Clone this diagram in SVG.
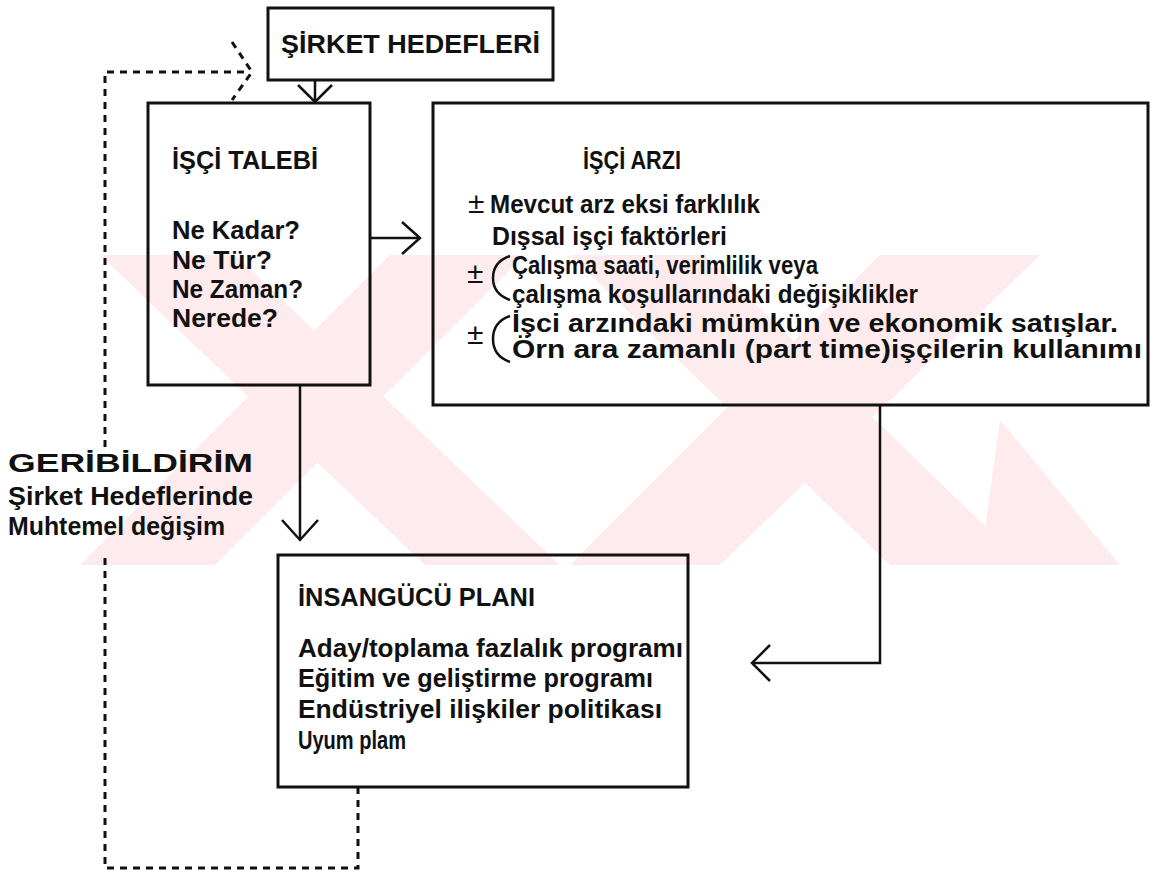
<svg xmlns="http://www.w3.org/2000/svg" width="1157" height="877" viewBox="0 0 1157 877">
<style>
.bx{fill:none;stroke:#111;stroke-width:3}
.ln{fill:none;stroke:#111;stroke-width:2.5}
.ds{fill:none;stroke:#111;stroke-width:3;stroke-dasharray:7 6}
.t{font-family:"Liberation Sans",Arial,sans-serif;font-weight:bold;fill:#111;font-size:25px}
.pm{font-family:"Liberation Sans",Arial,sans-serif;fill:#111;font-size:30px}
.wm{fill:#fdebee}
</style>
<g id="watermark">
<polygon class="wm" points="100,255 235,255 560,565 425,565"/>
<polygon class="wm" points="390,255 525,255 215,565 80,565"/>
<polygon class="wm" points="570,255 705,255 1025,565 890,565"/>
<polygon class="wm" points="880,255 1040,255 720,565 570,565"/>
<polygon class="wm" points="1000,420 1120,565 980,565"/>
</g>
<g id="connectors">
<line class="ln" x1="315" y1="80" x2="315" y2="102"/>
<polyline class="ln" points="298,85 315,102 332,85"/>
<line class="ln" x1="370" y1="238" x2="420" y2="238"/>
<polyline class="ln" points="402,222 420,238 402,254"/>
<line class="ln" x1="300" y1="385" x2="300" y2="540"/>
<polyline class="ln" points="282,520 300,540 318,520"/>
<polyline class="ln" points="880,405 880,663 752,663"/>
<polyline class="ln" points="770,645 752,663 770,681"/>
<polyline class="ds" points="358,787 358,868 105,868 105,553"/>
<polyline class="ds" points="105,447 105,72 250,72"/>
<polyline class="ds" points="232,42 252,72 232,100"/>
</g>
<g id="sirket-hedefleri">
<rect class="bx" x="268" y="8" width="285" height="72"/>
<text class="t" x="281" y="53" font-size="26" textLength="259" lengthAdjust="spacingAndGlyphs">ŞİRKET HEDEFLERİ</text>
</g>
<g id="isci-talebi">
<rect class="bx" x="148" y="103" width="222" height="282"/>
<text class="t" x="172" y="169" textLength="146" lengthAdjust="spacingAndGlyphs">İŞÇİ TALEBİ</text>
<text class="t" x="172" y="239" textLength="128" lengthAdjust="spacingAndGlyphs">Ne Kadar?</text>
<text class="t" x="172" y="269" textLength="100" lengthAdjust="spacingAndGlyphs">Ne Tür?</text>
<text class="t" x="172" y="298" textLength="131" lengthAdjust="spacingAndGlyphs">Ne Zaman?</text>
<text class="t" x="172" y="327" textLength="106" lengthAdjust="spacingAndGlyphs">Nerede?</text>
</g>
<g id="isci-arzi">
<rect class="bx" x="433" y="103" width="715" height="302"/>
<text class="t" x="583" y="169" textLength="98" lengthAdjust="spacingAndGlyphs">İŞÇİ ARZI</text>
<text class="pm" x="468" y="213">±</text>
<text class="t" x="490" y="213" font-size="24" textLength="270" lengthAdjust="spacingAndGlyphs">Mevcut arz eksi farklılık</text>
<text class="t" x="492" y="245" font-size="24" textLength="235" lengthAdjust="spacingAndGlyphs">Dışsal işçi faktörleri</text>
<text class="pm" x="467" y="283">±</text>
<path class="ln" d="M510,256 Q493,262 493,278 Q493,294 510,300"/>
<text class="t" x="512" y="274" font-size="24" textLength="306" lengthAdjust="spacingAndGlyphs">Çalışma saati, verimlilik veya</text>
<text class="t" x="512" y="303" font-size="24" textLength="406" lengthAdjust="spacingAndGlyphs">çalışma koşullarındaki değişiklikler</text>
<text class="pm" x="467" y="344">±</text>
<path class="ln" d="M510,316 Q493,322 493,339 Q493,356 510,362"/>
<text class="t" x="512" y="332" font-size="20" textLength="606" lengthAdjust="spacingAndGlyphs">İşci arzındaki mümkün ve ekonomik satışlar.</text>
<text class="t" x="512" y="358" font-size="20" textLength="630" lengthAdjust="spacingAndGlyphs">Örn ara zamanlı (part time)işçilerin kullanımı</text>
</g>
<g id="geribildirim">
<text class="t" x="8" y="472" textLength="245" lengthAdjust="spacingAndGlyphs">GERİBİLDİRİM</text>
<text class="t" x="8" y="505" textLength="245" lengthAdjust="spacingAndGlyphs">Şirket Hedeflerinde</text>
<text class="t" x="8" y="535" textLength="217" lengthAdjust="spacingAndGlyphs">Muhtemel değişim</text>
</g>
<g id="insangucu-plani">
<rect class="bx" x="278" y="555" width="410" height="232"/>
<text class="t" x="298" y="606" textLength="237" lengthAdjust="spacingAndGlyphs">İNSANGÜCÜ PLANI</text>
<text class="t" x="298" y="657" textLength="385" lengthAdjust="spacingAndGlyphs">Aday/toplama fazlalık programı</text>
<text class="t" x="298" y="687" textLength="355" lengthAdjust="spacingAndGlyphs">Eğitim ve geliştirme programı</text>
<text class="t" x="298" y="718" textLength="364" lengthAdjust="spacingAndGlyphs">Endüstriyel ilişkiler politikası</text>
<text class="t" x="298" y="749" textLength="108" lengthAdjust="spacingAndGlyphs">Uyum plam</text>
</g>
</svg>
